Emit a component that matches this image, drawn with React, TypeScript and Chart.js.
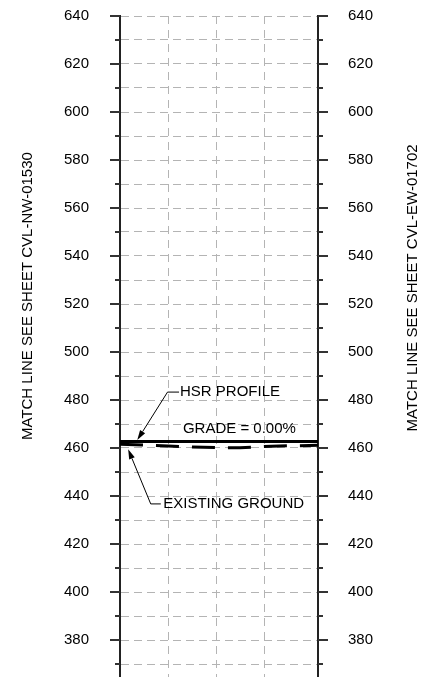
import React, { useEffect, useRef } from 'react';
import { Chart, registerables } from 'chart.js';

Chart.register(...registerables);

// ---- data ----
const hsrStations = [0, 4.125];
const hsrElevations = [462.7, 462.7];
const groundStations = [0, 0.5, 1, 1.5, 2, 2.5, 3, 3.5, 4.125];
const groundElevations = [461.6, 461.2, 460.8, 460.4, 460.2, 460.1, 460.6, 460.9, 461.1];
const elevationMin = 360;
const elevationMax = 640;
const elevationStep = 10;
const labelStep = 20;
const stationMin = 0;
const stationMax = 4.125;
const leftTitle = 'MATCH LINE SEE SHEET CVL-NW-01530';
const rightTitle = 'MATCH LINE SEE SHEET CVL-EW-01702';
const profileLabel = 'HSR PROFILE';
const gradeLabel = 'GRADE = 0.00%';
const groundLabel = 'EXISTING GROUND';

const FONT = '"Liberation Sans", Arial, Helvetica, sans-serif';
const GRID = '#b4b4b4';

function arrow(ctx: CanvasRenderingContext2D, x1: number, y1: number, x2: number, y2: number) {
  const ang = Math.atan2(y2 - y1, x2 - x1);
  const len = 10;
  const hw = 3;
  const bx = x2 - len * Math.cos(ang);
  const by = y2 - len * Math.sin(ang);
  ctx.beginPath();
  ctx.moveTo(x1, y1);
  ctx.lineTo(bx, by);
  ctx.stroke();
  ctx.beginPath();
  ctx.moveTo(x2, y2);
  ctx.lineTo(bx + hw * Math.sin(ang), by - hw * Math.cos(ang));
  ctx.lineTo(bx - hw * Math.sin(ang), by + hw * Math.cos(ang));
  ctx.closePath();
  ctx.fill();
}

const decor = {
  id: 'decor',
  afterDraw(chart: any) {
    const { ctx, chartArea } = chart;
    const x = chart.scales.x;
    const y = chart.scales.y;
    ctx.save();
    // tick marks (major / minor) on both axes
    ctx.strokeStyle = '#333';
    ctx.lineWidth = 2;
    y.ticks.forEach((t: any) => {
      const py = Math.round(y.getPixelForValue(t.value));
      const len = t.value % labelStep === 0 ? 10 : 5;
      ctx.beginPath();
      ctx.moveTo(chartArea.left - len, py);
      ctx.lineTo(chartArea.left, py);
      ctx.moveTo(chartArea.right, py);
      ctx.lineTo(chartArea.right + len, py);
      ctx.stroke();
    });

    // annotation texts
    ctx.fillStyle = '#000';
    ctx.font = `15px ${FONT}`;
    ctx.textBaseline = 'middle';
    ctx.textAlign = 'left';
    ctx.fillText(profileLabel, x.getPixelForValue(1.25), y.getPixelForValue(483.3));
    ctx.fillText(gradeLabel, x.getPixelForValue(1.31), y.getPixelForValue(467.9));
    ctx.fillText(groundLabel, x.getPixelForValue(0.9), y.getPixelForValue(436.7));

    // leaders
    ctx.strokeStyle = '#000';
    ctx.lineWidth = 1;
    const hy = y.getPixelForValue(483.3);
    const hxEnd = x.getPixelForValue(1.23);
    const hxElbow = x.getPixelForValue(0.99);
    ctx.beginPath();
    ctx.moveTo(hxEnd, hy);
    ctx.lineTo(hxElbow, hy);
    ctx.stroke();
    arrow(ctx, hxElbow, hy, x.getPixelForValue(0.36), y.getPixelForValue(463.3));

    const gy = y.getPixelForValue(436.7);
    const gxEnd = x.getPixelForValue(0.85);
    const gxElbow = x.getPixelForValue(0.64);
    ctx.beginPath();
    ctx.moveTo(gxEnd, gy);
    ctx.lineTo(gxElbow, gy);
    ctx.stroke();
    arrow(ctx, gxElbow, gy, x.getPixelForValue(0.17), y.getPixelForValue(459.5));

    // side match-line titles
    const drawRot = (txt: string, cx: number, cy: number) => {
      ctx.save();
      ctx.translate(cx, cy);
      ctx.rotate(-Math.PI / 2);
      ctx.textAlign = 'center';
      ctx.textBaseline = 'middle';
      ctx.fillText(txt, 0, 0);
      ctx.restore();
    };
    drawRot(leftTitle, chartArea.left - 92, y.getPixelForValue(523.3));
    drawRot(rightTitle, chartArea.right + 95, y.getPixelForValue(526.7));
    ctx.restore();
  },
};

export default function App() {
  const ref = useRef<HTMLCanvasElement | null>(null);
  useEffect(() => {
    if (!ref.current) return;
    const chart = new Chart(ref.current, {
      type: 'line',
      data: {
        datasets: [
          {
            label: 'HSR PROFILE',
            data: hsrStations.map((s, i) => ({ x: s, y: hsrElevations[i] })),
            borderColor: '#000',
            borderWidth: 3,
            pointRadius: 0,
            tension: 0,
            yAxisID: 'y',
          },
          {
            label: 'EXISTING GROUND',
            data: groundStations.map((s, i) => ({ x: s, y: groundElevations[i] })),
            borderColor: '#000',
            borderWidth: 3,
            borderDash: [23, 13],
            pointRadius: 0,
            tension: 0,
            yAxisID: 'y',
          },
        ],
      },
      options: {
        animation: false,
        responsive: true,
        maintainAspectRatio: false,
        layout: { padding: { top: 16, bottom: 0, left: 0, right: 0 } },
        plugins: { legend: { display: false }, tooltip: { enabled: false } },
        scales: {
          x: {
            type: 'linear',
            min: stationMin,
            max: stationMax,
            ticks: { display: false, stepSize: 1 },
            grid: {
              drawTicks: false,
              lineWidth: 1,
              color: (c: any) =>
                c.tick && (c.tick.value === stationMin || c.tick.value === stationMax) ? 'rgba(0,0,0,0)' : GRID,
            },
            border: { display: false, dash: [8, 6] },
          },
          y: {
            type: 'linear',
            position: 'left',
            min: elevationMin,
            max: elevationMax,
            afterFit: (s: any) => {
              s.width = 120;
              s.paddingTop = 0;
              s.paddingBottom = 0;
            },
            ticks: {
              stepSize: elevationStep,
              autoSkip: false,
              padding: 31,
              color: '#000',
              font: { family: FONT, size: 15 },
              callback: (v: any) => (v % labelStep === 0 && v !== elevationMin ? String(v) : ''),
            },
            grid: { drawTicks: false, color: GRID, lineWidth: 1 },
            border: { display: true, color: '#222', width: 2, dash: [8, 5] },
          },
          y2: {
            type: 'linear',
            position: 'right',
            min: elevationMin,
            max: elevationMax,
            afterFit: (s: any) => {
              s.width = 108;
              s.paddingTop = 0;
              s.paddingBottom = 0;
            },
            ticks: {
              stepSize: elevationStep,
              autoSkip: false,
              padding: 30,
              color: '#000',
              font: { family: FONT, size: 15 },
              callback: (v: any) => (v % labelStep === 0 && v !== elevationMin ? String(v) : ''),
            },
            grid: { display: false, drawTicks: false },
            border: { display: true, color: '#222', width: 2 },
          },
        },
      },
      plugins: [decor],
    });
    return () => chart.destroy();
  }, []);

  return (
    <div style={{ position: 'fixed', left: 0, top: 0, width: 426, height: 677, overflow: 'hidden', background: '#fff' }}>
      <div style={{ position: 'relative', width: 426, height: 688 }}>
        <canvas ref={ref} />
      </div>
    </div>
  );
}
